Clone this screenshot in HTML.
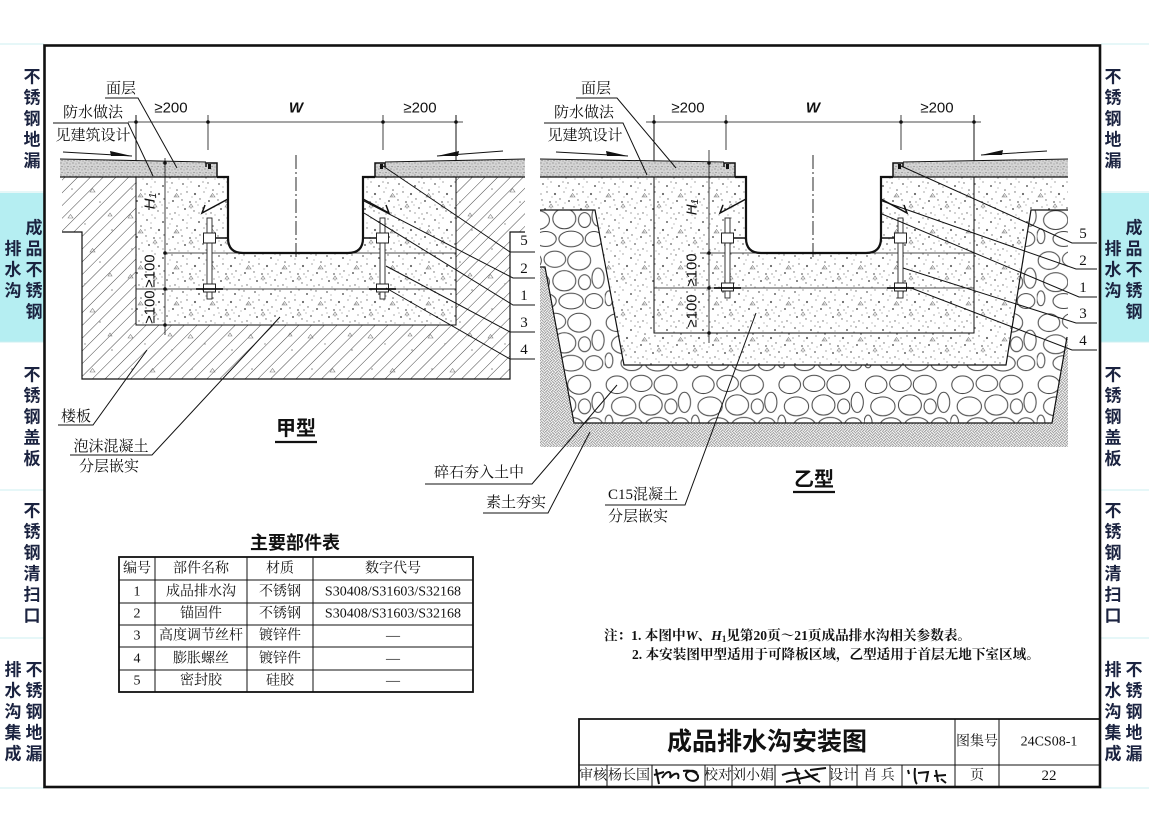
<!DOCTYPE html>
<html><head><meta charset="utf-8">
<style>
html,body{margin:0;padding:0;background:#fff;}
svg{display:block;}
.tab{font-family:"Liberation Sans","Noto Sans CJK SC",sans-serif;font-weight:bold;font-size:17px;fill:#1b2340;text-anchor:middle;dominant-baseline:central}
.lb{font-family:"Liberation Serif","Noto Serif CJK SC",serif;font-size:15px;fill:#111;text-anchor:middle;dominant-baseline:central}
.tb{font-family:"Liberation Serif","Noto Serif CJK SC",serif;font-size:14px;fill:#111;text-anchor:middle;dominant-baseline:central}
.dm{font-family:"Liberation Sans","Noto Sans CJK SC",sans-serif;font-size:15px;fill:#111;text-anchor:middle;dominant-baseline:central}
.nt{font-family:"Liberation Serif","Noto Serif CJK SC",serif;font-size:13.6px;fill:#111;font-weight:bold}
.hd{font-family:"Liberation Sans","Noto Sans CJK SC",sans-serif;font-weight:bold;fill:#111;text-anchor:middle;dominant-baseline:central}
.ln{stroke:#111;fill:none}
</style></head><body>
<svg width="1149" height="819" viewBox="0 0 1149 819" xmlns="http://www.w3.org/2000/svg">
<defs>
<pattern id="hatch" width="9" height="9" patternUnits="userSpaceOnUse" patternTransform="rotate(45)">
<line x1="0" y1="0" x2="0" y2="9" stroke="#333" stroke-width="0.9"/>
</pattern>
<pattern id="spk" width="36" height="36" patternUnits="userSpaceOnUse">
<g fill="#666">
<circle cx="3" cy="4" r="0.9"/><circle cx="11" cy="2" r="0.6"/><circle cx="19" cy="6" r="1"/><circle cx="28" cy="3" r="0.7"/>
<circle cx="33" cy="10" r="0.8"/><circle cx="7" cy="12" r="0.7"/><circle cx="15" cy="14" r="1.1"/><circle cx="24" cy="12" r="0.6"/>
<circle cx="2" cy="20" r="0.7"/><circle cx="10" cy="22" r="0.9"/><circle cx="20" cy="19" r="0.7"/><circle cx="29" cy="21" r="1"/>
<circle cx="34" cy="27" r="0.6"/><circle cx="5" cy="29" r="1"/><circle cx="14" cy="31" r="0.7"/><circle cx="23" cy="28" r="0.9"/>
<circle cx="31" cy="33" r="0.7"/><circle cx="18" cy="25" r="0.5"/><circle cx="26" cy="34" r="0.6"/><circle cx="8" cy="35" r="0.5"/>
<circle cx="7" cy="7" r="0.5"/><circle cx="23" cy="2" r="0.6"/><circle cx="32" cy="16" r="0.6"/><circle cx="12" cy="17" r="0.5"/>
<circle cx="26" cy="8" r="0.5"/><circle cx="1" cy="14" r="0.6"/><circle cx="16" cy="22" r="0.6"/><circle cx="25" cy="23" r="0.5"/>
<circle cx="3" cy="25" r="0.5"/><circle cx="19" cy="33" r="0.6"/><circle cx="11" cy="28" r="0.5"/><circle cx="35" cy="35" r="0.5"/>
</g>
<path d="M30,17 l2.5,-3.5 l2.5,3.5z M9,27 l2,-3 l2,3z" fill="none" stroke="#777" stroke-width="0.6"/>
</pattern>
<pattern id="slabspk" width="60" height="60" patternUnits="userSpaceOnUse">
<g fill="#888"><circle cx="12" cy="9" r="0.8"/><circle cx="40" cy="22" r="0.8"/><circle cx="25" cy="44" r="0.7"/><circle cx="52" cy="50" r="0.8"/></g>
<path d="M30,12 l2.5,-3.5 l2.5,3.5z M8,38 l2.5,-3.5 l2.5,3.5z M48,36 l2,-3 l2,3z" fill="none" stroke="#777" stroke-width="0.6"/>
</pattern>
<pattern id="srf" width="6" height="6" patternUnits="userSpaceOnUse">
<rect width="6" height="6" fill="#d4d4d4"/>
<g fill="#7a7a7a"><circle cx="1" cy="1" r="0.6"/><circle cx="4" cy="2" r="0.5"/><circle cx="2" cy="4.5" r="0.6"/><circle cx="5" cy="5" r="0.5"/></g>
</pattern>
<pattern id="cob" width="64" height="46" patternUnits="userSpaceOnUse" patternTransform="scale(1.35)">
<rect width="64" height="46" fill="#fff"/>
<g fill="none" stroke="#444" stroke-width="0.75">
<ellipse cx="9" cy="9" rx="8" ry="6.5"/><ellipse cx="27" cy="8" rx="8" ry="6"/><ellipse cx="45" cy="9" rx="8.5" ry="7"/>
<ellipse cx="59" cy="22" rx="4.5" ry="7.5"/><ellipse cx="14" cy="25" rx="9" ry="7"/><ellipse cx="34" cy="24" rx="8.5" ry="7.5"/>
<ellipse cx="49" cy="25" rx="4.5" ry="5.5"/><ellipse cx="3" cy="37" rx="3" ry="5.5"/><ellipse cx="20" cy="39" rx="8" ry="5.5"/>
<ellipse cx="39" cy="39" rx="9" ry="5.8"/><ellipse cx="56" cy="39" rx="6.5" ry="5.5"/>
</g>
</pattern>
<pattern id="soil" width="8" height="8" patternUnits="userSpaceOnUse" patternTransform="rotate(45)">
<rect width="8" height="8" fill="#fff"/>
<path d="M0,1 H4 M0,3 H4 M5,0 V4 M7,0 V4 M1,4 V8 M3,4 V8 M4,5 H8 M4,7 H8" stroke="#7a7a7a" stroke-width="0.8"/>
</pattern>
</defs>

<rect width="1149" height="819" fill="#fff"/>

<!-- side tabs -->
<rect x="0" y="193" width="44" height="149" fill="#b5eef2"/>
<rect x="1101" y="193" width="48" height="149" fill="#b5eef2"/>
<g stroke="#cdeff0" stroke-width="1">
<line x1="0" y1="44" x2="44" y2="44"/><line x1="0" y1="192" x2="44" y2="192"/><line x1="0" y1="342" x2="44" y2="342"/><line x1="0" y1="490" x2="44" y2="490"/><line x1="0" y1="638" x2="44" y2="638"/><line x1="0" y1="788" x2="44" y2="788"/>
<line x1="1101" y1="44" x2="1149" y2="44"/><line x1="1101" y1="192" x2="1149" y2="192"/><line x1="1101" y1="342" x2="1149" y2="342"/><line x1="1101" y1="490" x2="1149" y2="490"/><line x1="1101" y1="638" x2="1149" y2="638"/><line x1="1101" y1="788" x2="1149" y2="788"/>
</g>
<g class="tab">
<text x="32" y="77">不</text><text x="32" y="98">锈</text><text x="32" y="119">钢</text><text x="32" y="140">地</text><text x="32" y="161">漏</text>
<text x="34" y="228">成</text><text x="13" y="249">排</text><text x="34" y="249">品</text><text x="13" y="270">水</text><text x="34" y="270">不</text><text x="13" y="291">沟</text><text x="34" y="291">锈</text><text x="34" y="312">钢</text>
<text x="32" y="375">不</text><text x="32" y="396">锈</text><text x="32" y="417">钢</text><text x="32" y="438">盖</text><text x="32" y="459">板</text>
<text x="32" y="511">不</text><text x="32" y="532">锈</text><text x="32" y="553">钢</text><text x="32" y="574">清</text><text x="32" y="595">扫</text><text x="32" y="616">口</text>
<text x="13" y="670">排</text><text x="34" y="670">不</text><text x="13" y="691">水</text><text x="34" y="691">锈</text><text x="13" y="712">沟</text><text x="34" y="712">钢</text><text x="13" y="733">集</text><text x="34" y="733">地</text><text x="13" y="754">成</text><text x="34" y="754">漏</text>

<text x="1113" y="77">不</text><text x="1113" y="98">锈</text><text x="1113" y="119">钢</text><text x="1113" y="140">地</text><text x="1113" y="161">漏</text>
<text x="1134" y="228">成</text><text x="1113" y="249">排</text><text x="1134" y="249">品</text><text x="1113" y="270">水</text><text x="1134" y="270">不</text><text x="1113" y="291">沟</text><text x="1134" y="291">锈</text><text x="1134" y="312">钢</text>
<text x="1113" y="375">不</text><text x="1113" y="396">锈</text><text x="1113" y="417">钢</text><text x="1113" y="438">盖</text><text x="1113" y="459">板</text>
<text x="1113" y="511">不</text><text x="1113" y="532">锈</text><text x="1113" y="553">钢</text><text x="1113" y="574">清</text><text x="1113" y="595">扫</text><text x="1113" y="616">口</text>
<text x="1113" y="670">排</text><text x="1134" y="670">不</text><text x="1113" y="691">水</text><text x="1134" y="691">锈</text><text x="1113" y="712">沟</text><text x="1134" y="712">钢</text><text x="1113" y="733">集</text><text x="1134" y="733">地</text><text x="1113" y="754">成</text><text x="1134" y="754">漏</text>
</g>

<!-- frame -->
<rect x="44.5" y="45.5" width="1055.5" height="741.5" fill="none" stroke="#111" stroke-width="2.6"/>

<!-- ================= LEFT DRAWING (甲型) ================= -->
<path d="M62,177 L525,177 L525,232 L510,232 L510,379 L82,379 L82,232 L62,232 Z" fill="url(#hatch)"/>
<path d="M62,177 L525,177 L525,232 L510,232 L510,379 L82,379 L82,232 L62,232 Z" fill="url(#slabspk)"/>
<rect x="136" y="177" width="320" height="148" fill="#fff"/>
<rect x="136" y="177" width="320" height="148" fill="url(#spk)"/>
<path class="ln" stroke-width="1.2" d="M62,232 H82 V379 H510 V232 H525"/>
<path class="ln" stroke-width="1" d="M136,115 V325 H456 V115"/>
<path class="ln" stroke-width="0.8" d="M165,253 H456 M136,289 H456"/>
<!-- surface -->
<path d="M60,159 L217,163 L217,177 L60,177 Z" fill="url(#srf)"/>
<path d="M375,163 L525,159 L525,177 L375,177 Z" fill="url(#srf)"/>
<path class="ln" stroke-width="1" d="M60,159 L206,162 M385,162 L525,159"/>
<path class="ln" stroke-width="1.3" d="M60,177 H217 M375,177 H525"/>
<!-- channel -->
<path d="M228,177 V238 Q228,253 243,253 H348 Q363,253 363,238 V177 Z" fill="#fff"/>
<path class="ln" stroke-width="2.2" d="M217,177 H228 V238 Q228,253 243,253 H348 Q363,253 363,238 V177 H375"/>
<path class="ln" stroke-width="1.5" d="M206,167 V163 H217 V177 M385,167 V163 H375 V177"/>
<rect x="208" y="164" width="3" height="5" fill="#111"/><rect x="380" y="164" width="3" height="5" fill="#111"/>
<path class="ln" stroke-width="1.6" d="M203,238 H228 M363,238 H388"/>
<path class="ln" stroke-width="1.5" d="M228,199 L202,213 L205,205 M363,199 L389,213 L386,205"/>
<rect x="207" y="218" width="5" height="81" fill="#fff" stroke="#222" stroke-width="0.9"/>
<rect x="380" y="218" width="5" height="81" fill="#fff" stroke="#222" stroke-width="0.9"/>
<rect x="203.5" y="233" width="12" height="10" fill="#fff" stroke="#222" stroke-width="1"/>
<rect x="376.5" y="233" width="12" height="10" fill="#fff" stroke="#222" stroke-width="1"/>
<rect x="203.5" y="284" width="12" height="8" fill="#fff" stroke="#222" stroke-width="1"/>
<rect x="376.5" y="284" width="12" height="8" fill="#fff" stroke="#222" stroke-width="1"/>
<path class="ln" stroke-width="1.8" d="M196,289 H223 M369,289 H396"/>
<path class="ln" stroke-width="0.9" stroke-dasharray="14 3 2 3" d="M296,155 V258"/>
<!-- dims -->
<path class="ln" stroke-width="0.8" d="M128,122 H463 M208,115 V150 M383,115 V150 M165,158 V335"/>
<g fill="#111"><circle cx="136" cy="122" r="1.8"/><circle cx="208" cy="122" r="1.8"/><circle cx="383" cy="122" r="1.8"/><circle cx="456" cy="122" r="1.8"/>
<circle cx="165" cy="163" r="1.8"/><circle cx="165" cy="253" r="1.8"/><circle cx="165" cy="289" r="1.8"/><circle cx="165" cy="325" r="1.8"/></g>
<text class="dm" x="171" y="108">≥200</text>
<text class="dm" x="296" y="108" font-family="Liberation Serif" font-style="italic" font-weight="bold">W</text>
<text class="dm" x="420" y="108">≥200</text>
<text class="dm" transform="translate(150,201) rotate(-90)" font-family="Liberation Serif" font-style="italic">H<tspan font-size="10" dy="3">1</tspan></text>
<text class="dm" transform="translate(150,271) rotate(-90)" font-family="Liberation Serif">≥100</text>
<text class="dm" transform="translate(150,307) rotate(-90)" font-family="Liberation Serif">≥100</text>
<!-- surface arrows -->
<path class="ln" stroke-width="1" d="M63,152 L132,156 M503,151 L437,156"/>
<path d="M132,156 L110,151 L111,156 Z M437,156 L459,151 L458,156 Z" fill="#111"/>
<!-- labels -->
<text class="lb" x="121" y="89">面层</text>
<text class="lb" x="93" y="113">防水做法</text>
<text class="lb" x="93" y="136">见建筑设计</text>
<path class="ln" stroke-width="1" d="M105,98 H138 L177,168 M53,123 H128 L153,176"/>
<g class="lb"><text x="524" y="241">5</text><text x="524" y="269">2</text><text x="524" y="296">1</text><text x="524" y="323">3</text><text x="524" y="350">4</text></g>
<path class="ln" stroke-width="1" d="M535,252 H510 L383,166 M535,278 H513 L364,201 M535,305 H513 L364,213 M535,332 H510 L386,266 M535,359 H510 L386,288"/>
<text class="lb" x="76" y="417">楼板</text>
<path class="ln" stroke-width="1" d="M58,425 H93 L147,350"/>
<text class="lb" x="111" y="447">泡沫混凝土</text>
<path class="ln" stroke-width="1" d="M70,455 H152 L280,317"/>
<text class="lb" x="109" y="467">分层嵌实</text>
<text class="hd" x="296" y="429" font-size="20">甲型</text>
<line x1="275" y1="442" x2="317" y2="442" stroke="#111" stroke-width="2.2"/>

<!-- ================= RIGHT DRAWING (乙型) ================= -->
<path d="M540,267 L545,267 L574,423 L1052,423 L1067,337 L1068,337 L1068,447 L540,447 Z" fill="url(#soil)"/>
<path d="M540,210 L595,210 L624,365 L1006,365 L1031,210 L1068,210 L1068,337 L1067,337 L1052,423 L574,423 L545,267 L540,267 Z" fill="url(#cob)"/>
<path d="M540,177 L1068,177 L1068,210 L1031,210 L1006,365 L624,365 L595,210 L540,210 Z" fill="#fff"/>
<path d="M540,177 L1068,177 L1068,210 L1031,210 L1006,365 L624,365 L595,210 L540,210 Z" fill="url(#spk)"/>
<path class="ln" stroke-width="1.2" d="M540,210 H595 L624,365 H1006 L1031,210 H1068 M540,267 H545 L574,423 H1052 L1067,337"/>
<path class="ln" stroke-width="1" d="M654,115 V333 H974 V115"/>
<path class="ln" stroke-width="0.8" d="M700,253 H974 M654,288 H974"/>
<path d="M540,159 L735,163 L735,177 L540,177 Z" fill="url(#srf)"/>
<path d="M893,163 L1068,159 L1068,177 L893,177 Z" fill="url(#srf)"/>
<path class="ln" stroke-width="1" d="M540,159 L724,162 M903,162 L1068,159"/>
<path class="ln" stroke-width="1.3" d="M540,177 H735 M893,177 H1068"/>
<g transform="translate(518,0)">
<path d="M228,177 V238 Q228,253 243,253 H348 Q363,253 363,238 V177 Z" fill="#fff"/>
<path class="ln" stroke-width="2.2" d="M217,177 H228 V238 Q228,253 243,253 H348 Q363,253 363,238 V177 H375"/>
<path class="ln" stroke-width="1.5" d="M206,167 V163 H217 V177 M385,167 V163 H375 V177"/>
<rect x="208" y="164" width="3" height="5" fill="#111"/><rect x="380" y="164" width="3" height="5" fill="#111"/>
<path class="ln" stroke-width="1.6" d="M203,238 H228 M363,238 H388"/>
<path class="ln" stroke-width="1.5" d="M228,199 L202,213 L205,205 M363,199 L389,213 L386,205"/>
<rect x="207" y="218" width="5" height="80" fill="#fff" stroke="#222" stroke-width="0.9"/>
<rect x="380" y="218" width="5" height="80" fill="#fff" stroke="#222" stroke-width="0.9"/>
<rect x="203.5" y="233" width="12" height="10" fill="#fff" stroke="#222" stroke-width="1"/>
<rect x="376.5" y="233" width="12" height="10" fill="#fff" stroke="#222" stroke-width="1"/>
<rect x="203.5" y="283" width="12" height="8" fill="#fff" stroke="#222" stroke-width="1"/>
<rect x="376.5" y="283" width="12" height="8" fill="#fff" stroke="#222" stroke-width="1"/>
<path class="ln" stroke-width="1.8" d="M196,288 H223 M369,288 H396"/>
<path class="ln" stroke-width="0.9" stroke-dasharray="14 3 2 3" d="M295,155 V260"/>
</g>
<path class="ln" stroke-width="0.8" d="M646,122 H981 M726,115 V150 M901,115 V150 M709,150 V343"/>
<g fill="#111"><circle cx="654" cy="122" r="1.8"/><circle cx="726" cy="122" r="1.8"/><circle cx="901" cy="122" r="1.8"/><circle cx="974" cy="122" r="1.8"/>
<circle cx="709" cy="163" r="1.8"/><circle cx="709" cy="253" r="1.8"/><circle cx="709" cy="288" r="1.8"/><circle cx="709" cy="333" r="1.8"/></g>
<text class="dm" x="688" y="108">≥200</text>
<text class="dm" x="813" y="108" font-family="Liberation Serif" font-style="italic" font-weight="bold">W</text>
<text class="dm" x="937" y="108">≥200</text>
<text class="dm" transform="translate(692,207) rotate(-90)" font-family="Liberation Serif" font-style="italic">H<tspan font-size="10" dy="3">1</tspan></text>
<text class="dm" transform="translate(692,270) rotate(-90)" font-family="Liberation Serif">≥100</text>
<text class="dm" transform="translate(692,311) rotate(-90)" font-family="Liberation Serif">≥100</text>
<path class="ln" stroke-width="1" d="M556,152 L628,156 M1047,151 L981,155"/>
<path d="M628,156 L606,151 L607,156 Z M981,155 L1003,150 L1002,155 Z" fill="#111"/>
<text class="lb" x="596" y="89">面层</text>
<text class="lb" x="584" y="113">防水做法</text>
<text class="lb" x="585" y="136">见建筑设计</text>
<path class="ln" stroke-width="1" d="M576,98 H617 L676,168 M544,123 H623 L647,175"/>
<g class="lb"><text x="1083" y="234">5</text><text x="1083" y="261">2</text><text x="1083" y="288">1</text><text x="1083" y="314">3</text><text x="1083" y="341">4</text></g>
<path class="ln" stroke-width="1" d="M1097,243 H1072 L901,166 M1097,269 H1076 L882,201 M1097,297 H1079 L882,214 M1097,323 H1076 L903,268 M1097,350 H1072 L911,288"/>
<text class="lb" x="479" y="473">碎石夯入土中</text>
<path class="ln" stroke-width="1" d="M425,484 H532 L617,385"/>
<text class="lb" x="516" y="503">素土夯实</text>
<path class="ln" stroke-width="1" d="M483,513 H548 L590,432"/>
<text class="lb" x="643" y="495">C15混凝土</text>
<path class="ln" stroke-width="1" d="M605,505 H685 L756,313"/>
<text class="lb" x="638" y="517">分层嵌实</text>
<text class="hd" x="814" y="480" font-size="20">乙型</text>
<line x1="793" y1="492" x2="835" y2="492" stroke="#111" stroke-width="2.2"/>

<!-- ================= TABLE ================= -->
<text class="hd" x="295" y="543" font-size="18">主要部件表</text>
<rect x="119" y="557" width="354" height="135" fill="none" stroke="#111" stroke-width="1.8"/>
<path class="ln" stroke-width="1" d="M119,580 H473 M119,603 H473 M119,625 H473 M119,647 H473 M119,670 H473 M155,557 V692 M247,557 V692 M313,557 V692"/>
<g class="tb">
<text x="137" y="569">编号</text><text x="201" y="569">部件名称</text><text x="280" y="569">材质</text><text x="393" y="569">数字代号</text>
<text x="137" y="592">1</text><text x="201" y="592">成品排水沟</text><text x="280" y="592">不锈钢</text><text x="393" y="592">S30408/S31603/S32168</text>
<text x="137" y="614">2</text><text x="201" y="614">锚固件</text><text x="280" y="614">不锈钢</text><text x="393" y="614">S30408/S31603/S32168</text>
<text x="137" y="636">3</text><text x="201" y="636">高度调节丝杆</text><text x="280" y="636">镀锌件</text><text x="393" y="636">—</text>
<text x="137" y="659">4</text><text x="201" y="659">膨胀螺丝</text><text x="280" y="659">镀锌件</text><text x="393" y="659">—</text>
<text x="137" y="681">5</text><text x="201" y="681">密封胶</text><text x="280" y="681">硅胶</text><text x="393" y="681">—</text>
</g>

<!-- ================= NOTES ================= -->
<text class="nt" x="604" y="640">注：1. 本图中<tspan font-style="italic">W</tspan>、<tspan font-style="italic">H</tspan><tspan font-size="9" dy="2">1</tspan><tspan dy="-2">见第20页～21页成品排水沟相关参数表。</tspan></text>
<text class="nt" x="632" y="659">2. 本安装图甲型适用于可降板区域，乙型适用于首层无地下室区域。</text>

<!-- ================= TITLE BLOCK ================= -->
<path class="ln" stroke-width="1.8" d="M579,787 V719 H1100"/>
<path class="ln" stroke-width="1" d="M579,765 H1100 M955,719 V787 M999,719 V787 M607,765 V787 M652,765 V787 M705,765 V787 M732,765 V787 M775,765 V787 M830,765 V787 M857,765 V787 M902,765 V787"/>
<text class="hd" x="767" y="742" font-size="25">成品排水沟安装图</text>
<text class="tb" x="977" y="742" font-size="12">图集号</text>
<text class="tb" x="1049" y="742" font-size="17">24CS08-1</text>
<g class="tb" font-size="13">
<text x="593" y="776">审核</text><text x="629" y="776">杨长国</text><text x="718" y="776">校对</text><text x="753" y="776">刘小娟</text>
<text x="843" y="776">设计</text><text x="879" y="776">肖 兵</text><text x="977" y="776">页</text><text x="1049" y="776" font-size="15">22</text>
</g>
<g class="ln" stroke-width="2">
<path d="M656,769 L659,784 M654,775 L664,772 M662,778 C667,770 672,770 670,778 C675,772 680,772 678,779 M683,771 C689,770 696,771 698,776 C699,782 688,783 686,776 C685,771 693,769 697,773"/>
<path d="M782,775 C790,772 796,772 800,774 M786,782 C795,779 806,778 818,774 M795,768 L800,784 M805,770 C808,774 812,778 820,782 M810,770 L826,768"/>
<path d="M908,770 L909,774 M915,768 C914,775 915,782 917,784 M918,773 L928,772 L926,782 M936,770 L938,782 M934,776 L946,775 M941,779 L946,783"/>
</g>
</svg>
</body></html>
